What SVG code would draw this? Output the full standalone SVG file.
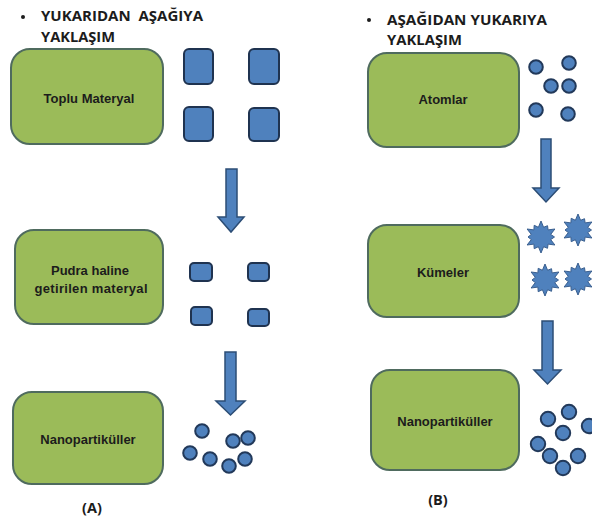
<svg xmlns="http://www.w3.org/2000/svg" width="592" height="521" viewBox="0 0 592 521">
  <style>
    .box { fill: #9bbb59; stroke: #4f6b5e; stroke-width: 2; }
    .lbl { font-family: "Liberation Sans", Arial, sans-serif; font-weight: bold; font-size: 13px; fill: #1c1c1c; text-anchor: middle; }
    .title { font-family: "Open Sans", "Liberation Sans", sans-serif; font-weight: bold; font-size: 14.5px; fill: #1c1c1c; white-space: pre; }
    .bullet { fill: #1c1c1c; }
    .part { fill: #4f81bd; stroke: #1f3350; stroke-width: 2; }
    .atom { fill: #4f81bd; stroke: #22395a; stroke-width: 2; }
    .arrow { fill: #4f81bd; stroke: #2c4d75; stroke-width: 1.5; stroke-linejoin: miter; }
  </style>
  <defs>
    <!-- burst shape used for clusters -->
    <polygon id="burst" points="0,-16 2.6,-9.7 6.5,-11.3 7.1,-7.1 13.9,-8 9.7,-2.6 13.5,0 9.7,2.6 13.9,8 7.1,7.1 6.5,11.3 2.6,9.7 0,16 -2.6,9.7 -6.8,11.7 -7.1,7.1 -13.9,8 -9.7,2.6 -13,0 -9.7,-2.6 -13.9,-8 -7.1,-7.1 -6.8,-11.7 -2.6,-9.7"/>
  </defs>

  <rect width="592" height="521" fill="#ffffff"/>

  <!-- Headings -->
  <g id="heading-a">
    <circle class="bullet" cx="23" cy="17" r="2"/>
    <text class="title" x="41" y="21" textLength="162" lengthAdjust="spacingAndGlyphs">YUKARIDAN  AŞAĞIYA</text>
    <text class="title" x="41" y="42" textLength="74" lengthAdjust="spacingAndGlyphs">YAKLAŞIM</text>
  </g>
  <g id="heading-b">
    <circle class="bullet" cx="369" cy="20" r="2"/>
    <text class="title" x="387" y="25" textLength="160" lengthAdjust="spacingAndGlyphs">AŞAĞIDAN YUKARIYA</text>
    <text class="title" x="387" y="45" textLength="75" lengthAdjust="spacingAndGlyphs">YAKLAŞIM</text>
  </g>

  <!-- Left column: top-down -->
  <g id="toplu-materyal">
    <rect class="box" x="11" y="49" width="152" height="95" rx="19"/>
    <text class="lbl" x="89" y="103">Toplu Materyal</text>
  </g>
  <g id="bulk-blocks">
    <rect class="part" x="184" y="49" width="29" height="35" rx="5"/>
    <rect class="part" x="249" y="49" width="30" height="35" rx="5"/>
    <rect class="part" x="184" y="107" width="29" height="34" rx="5"/>
    <rect class="part" x="249" y="108" width="30" height="33" rx="5"/>
  </g>

  <g id="pudra">
    <rect class="box" x="15" y="230" width="148" height="94" rx="19"/>
    <text class="lbl" x="90" y="275">Pudra haline</text>
    <text class="lbl" x="91" y="293" textLength="113" lengthAdjust="spacing">getirilen  materyal</text>
  </g>
  <g id="powder-blocks">
    <rect class="part" x="190" y="263" width="22" height="18" rx="4"/>
    <rect class="part" x="248" y="263" width="21" height="18" rx="4"/>
    <rect class="part" x="191" y="307" width="21" height="18" rx="4"/>
    <rect class="part" x="248" y="309" width="21" height="17" rx="4"/>
  </g>

  <g id="nano-a">
    <rect class="box" x="13" y="392" width="150" height="92" rx="19"/>
    <text class="lbl" x="88" y="444">Nanopartiküller</text>
  </g>
  <g id="nano-a-particles">
    <circle class="atom" cx="202" cy="431" r="6.8"/>
    <circle class="atom" cx="233" cy="441" r="6.8"/>
    <circle class="atom" cx="248" cy="438" r="6.8"/>
    <circle class="atom" cx="190" cy="453" r="6.8"/>
    <circle class="atom" cx="210" cy="459" r="6.8"/>
    <circle class="atom" cx="229" cy="466" r="6.8"/>
    <circle class="atom" cx="245" cy="459" r="6.8"/>
  </g>
  <text class="title" x="92" y="513" text-anchor="middle">(A)</text>

  <!-- Right column: bottom-up -->
  <g id="atomlar">
    <rect class="box" x="368" y="53" width="151" height="94" rx="19"/>
    <text class="lbl" x="443" y="104">Atomlar</text>
  </g>
  <g id="atoms">
    <circle class="atom" cx="536" cy="67" r="6.8"/>
    <circle class="atom" cx="569" cy="63" r="6.8"/>
    <circle class="atom" cx="551" cy="86" r="6.8"/>
    <circle class="atom" cx="569" cy="86" r="6.8"/>
    <circle class="atom" cx="536" cy="110" r="6.8"/>
    <circle class="atom" cx="568" cy="114" r="6.8"/>
  </g>

  <g id="kumeler">
    <rect class="box" x="368" y="225" width="151" height="92" rx="19"/>
    <text class="lbl" x="443" y="277">Kümeler</text>
  </g>
  <g id="clusters" fill="#4f81bd" stroke="#3a5f8f" stroke-width="1">
    <use href="#burst" x="541" y="237"/>
    <use href="#burst" x="578" y="230"/>
    <use href="#burst" x="545" y="280"/>
    <use href="#burst" x="578" y="279"/>
  </g>

  <g id="nano-b">
    <rect class="box" x="371" y="370" width="148" height="100" rx="19"/>
    <text class="lbl" x="445" y="426">Nanopartiküller</text>
  </g>
  <g id="nano-b-particles">
    <circle class="atom" cx="548" cy="419" r="7.2"/>
    <circle class="atom" cx="569" cy="412" r="7.2"/>
    <circle class="atom" cx="589" cy="426" r="7.2"/>
    <circle class="atom" cx="563" cy="433" r="7.2"/>
    <circle class="atom" cx="538" cy="444" r="7.2"/>
    <circle class="atom" cx="550" cy="456" r="7.2"/>
    <circle class="atom" cx="578" cy="456" r="7.2"/>
    <circle class="atom" cx="563" cy="468" r="7.2"/>
  </g>
  <text class="title" x="438" y="505" text-anchor="middle">(B)</text>

  <!-- Process arrows -->
  <g id="connectors">
    <path class="arrow" d="M226,169 H237 V217 H244 L231,232 L218,217 H226 Z"/>
    <path class="arrow" d="M225,352 H236 V401 H245 L230.5,415 L216,401 H225 Z"/>
    <path class="arrow" d="M541,139 H551 V188 H559 L546,202 L533,188 H541 Z"/>
    <path class="arrow" d="M542,321 H553 V370 H561 L547.5,384 L534,370 H542 Z"/>
  </g>
</svg>
